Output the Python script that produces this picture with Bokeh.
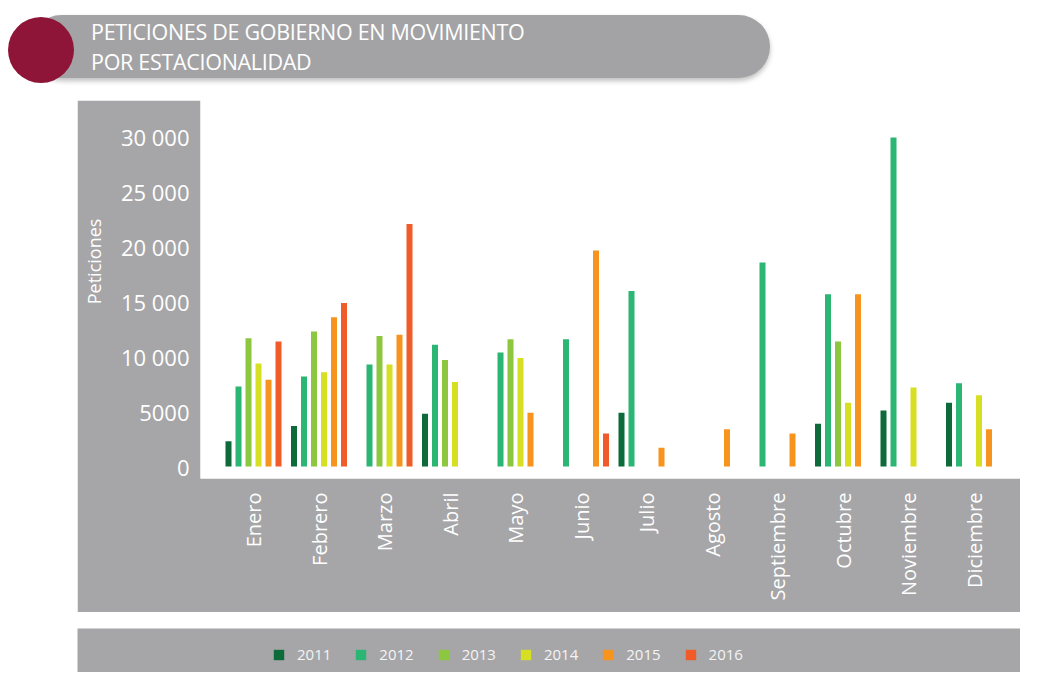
import math
from bokeh.plotting import figure
from bokeh.models import (Range1d, FixedTicker, Legend, LegendItem, Div,
                          ColumnDataSource)
from bokeh.layouts import column
from bokeh.embed import file_html
from bokeh.resources import INLINE

# ---------------- data ----------------
months = ["Enero", "Febrero", "Marzo", "Abril", "Mayo", "Junio", "Julio",
          "Agosto", "Septiembre", "Octubre", "Noviembre", "Diciembre"]
years = ["2011", "2012", "2013", "2014", "2015", "2016"]

v2011 = [2300, 3700, None, 4800, None, None, 4900, None, None, 3900, 5100, 5800]
v2012 = [7300, 8200, 9300, 11100, 10400, 11600, 16000, None, 18600, 15700, 30000, 7600]
v2013 = [11700, 12300, 11900, 9700, 11600, None, None, None, None, 11400, None, None]
v2014 = [9400, 8600, 9300, 7700, 9900, None, None, None, None, 5800, 7200, 6500]
v2015 = [7900, 13600, 12000, None, 4900, 19700, 1700, 3400, 3000, 15700, None, 3400]
v2016 = [11400, 14900, 22100, None, None, 3000, None, None, None, None, None, None]

series = [v2011, v2012, v2013, v2014, v2015, v2016]
colors = ["#0d6b3b", "#2bb673", "#8dc63f", "#d7df23", "#f7941d", "#f15a29"]

y_ticks = [0, 5000, 10000, 15000, 20000, 25000, 30000]
y_tick_labels = ["0", "5000", "10 000", "15 000", "20 000", "25 000", "30 000"]

title_lines = ["PETICIONES DE GOBIERNO EN MOVIMIENTO", "POR ESTACIONALIDAD"]
y_title = "Peticiones"

GRAY = "#a6a6a8"
FONT = "Open Sans"

# ---------------- title banner ----------------
title_html = f"""
<div style="position:relative;width:1035px;height:100px;">
  <div style="position:absolute;left:30px;top:15px;width:740px;height:63px;
       background:#a3a3a5;border-radius:32px;box-shadow:0 3px 5px rgba(0,0,0,0.25);"></div>
  <div style="position:absolute;left:8px;top:17px;width:66px;height:66px;
       border-radius:50%;background:#8e1537;"></div>
  <div style="position:absolute;left:91px;top:17px;color:#ffffff;
       font-family:'{FONT}';font-size:21.5px;line-height:30px;white-space:nowrap;
       letter-spacing:-0.3px;">
    {title_lines[0]}<br>{title_lines[1]}
  </div>
</div>
"""
title_div = Div(text=title_html, width=1035, height=100, margin=(0, 0, 0, 0))

# ---------------- main chart ----------------
px_per_month = 65.5
frame_w, frame_h = 820, 378
x_start = -53 / px_per_month
x_end = x_start + frame_w / px_per_month
px_per_val = 10.97 / 1000
y_start = -12 / px_per_val
y_end = y_start + frame_h / px_per_val

p = figure(width=943, height=512, x_range=Range1d(x_start, x_end),
           y_range=Range1d(y_start, y_end), output_backend="svg",
           toolbar_location=None, min_border_left=123, min_border_right=0,
           min_border_top=0, min_border_bottom=134)
p.margin = (0, 0, 0, 77)
p.border_fill_color = GRAY
p.background_fill_color = "white"
p.outline_line_color = None
p.xgrid.visible = False
p.ygrid.visible = False

slot = 10 / px_per_month
bar_w = 6 / px_per_month
sources = []
for k, (vals, col) in enumerate(zip(series, colors)):
    xs, tops = [], []
    for i, v in enumerate(vals):
        if v is None:
            continue
        xs.append(i + (k - 2.5) * slot)
        tops.append(v)
    src = ColumnDataSource(dict(x=xs, top=tops))
    sources.append(src)
    p.vbar(x="x", top="top", bottom=0, width=bar_w, source=src,
           fill_color=col, line_color=None)

# y axis
p.yaxis.ticker = FixedTicker(ticks=y_ticks)
p.yaxis.major_label_overrides = {t: l for t, l in zip(y_ticks, y_tick_labels)}
p.yaxis.axis_line_color = None
p.yaxis.major_tick_line_color = None
p.yaxis.minor_tick_line_color = None
p.yaxis.major_tick_out = 0
p.yaxis.major_tick_in = 0
p.yaxis.major_label_standoff = 11
p.yaxis.major_label_text_color = "white"
p.yaxis.major_label_text_font = FONT
p.yaxis.major_label_text_font_size = "22px"
# leading no-break spaces lift the title to where the reference has it
p.yaxis.axis_label = "\u00a0" * 12 + y_title
p.yaxis.axis_label_text_color = "white"
p.yaxis.axis_label_text_font = FONT
p.yaxis.axis_label_text_font_style = "normal"
p.yaxis.axis_label_text_font_size = "18px"
p.yaxis.axis_label_standoff = 12

# x axis
p.xaxis.ticker = FixedTicker(ticks=list(range(len(months))))
p.xaxis.major_label_overrides = {i: m for i, m in enumerate(months)}
p.xaxis.major_label_orientation = math.pi / 2
p.xaxis.axis_line_color = None
p.xaxis.major_tick_line_color = None
p.xaxis.minor_tick_line_color = None
p.xaxis.major_tick_out = 0
p.xaxis.major_tick_in = 0
p.xaxis.major_label_standoff = 14
p.xaxis.major_label_text_color = "white"
p.xaxis.major_label_text_font = FONT
p.xaxis.major_label_text_font_size = "20px"

# ---------------- legend band ----------------
q = figure(width=943, height=44, x_range=Range1d(-100, -99),
           y_range=Range1d(-100, -99),
           output_backend="svg", toolbar_location=None, min_border_left=0,
           min_border_right=0, min_border_top=0, min_border_bottom=0)
q.margin = (16, 0, 0, 77)
q.axis.visible = False
q.xgrid.visible = False
q.ygrid.visible = False
q.outline_line_color = None
q.border_fill_color = GRAY
q.background_fill_color = GRAY

items = []
for yr, col, src in zip(years, colors, sources):
    r = q.vbar(x="x", top="top", bottom=0, width=bar_w, source=src,
               fill_color=col, line_color=None)
    items.append(LegendItem(label=yr, renderers=[r]))
leg = Legend(items=items, orientation="horizontal", location=(195, 8),
             background_fill_alpha=0, border_line_color=None,
             padding=0, margin=0, spacing=23, glyph_width=13, glyph_height=13,
             label_standoff=12, label_height=20,
             label_text_color="#f4f4f4", label_text_font=FONT,
             label_text_font_size="15px")
q.add_layout(leg)

layout = column(title_div, p, column(q, margin=(0, 0, 0, 0)), spacing=0)
open("out.html", "w").write(file_html(layout, INLINE))
